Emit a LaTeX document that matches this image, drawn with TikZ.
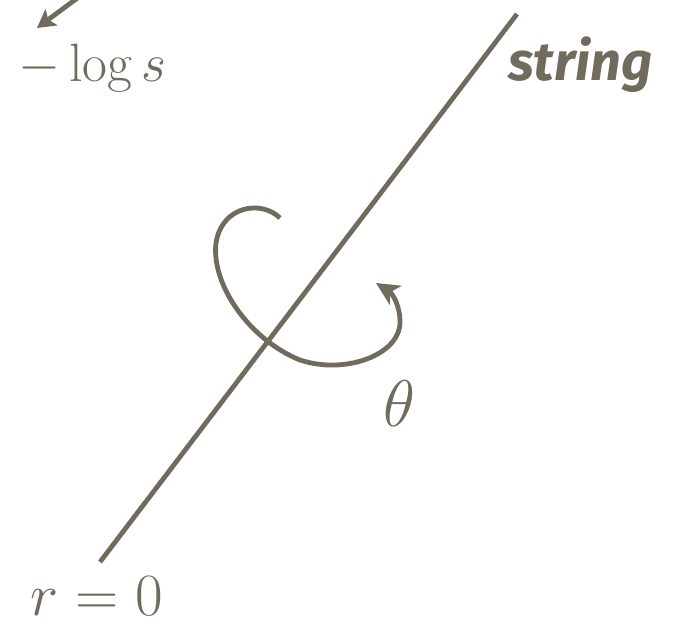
\RequirePackage{fix-cm}
\documentclass[tikz,border=0pt]{standalone}
\usepackage{fontspec}
\usetikzlibrary{arrows.meta}
\newfontfamily\handfont{Fira Sans}

\begin{document}
\begin{tikzpicture}[x=0.5pt,y=-0.5pt,line width=2.4pt,
    font=\fontsize{27}{32}\selectfont]

    \definecolor{ink}{RGB}{112,107,93}
    \tikzset{
        lbl/.style={text=ink,inner sep=0pt},
        tip/.style={-{Stealth[length=11.5pt,width=11pt,inset=3pt]}}
    }

    \useasboundingbox (0,0) rectangle (676,625);
    \clip (0,0) rectangle (676,625);

    % the string
    \coordinate (sbot) at (100,562);
    \coordinate (stop) at (517,14);
    \draw[ink] (sbot) -- (stop);

    % labels
    \node[lbl,anchor=base] (logs) at (92,82) {$-\log s$};
    \node[lbl,anchor=base,font=\fontsize{30}{36}\selectfont] (rzero) at (97,616) {$r=0$};
    \node[lbl,font=\fontsize{33}{40}\selectfont] (theta) at (399,404) {$\theta$};
    \node[lbl,anchor=base west,font=\handfont\bfseries\itshape\fontsize{27}{32}\selectfont]
        (strlbl) at (506,81) {string};

    % arrow towards -log s
    \coordinate (far) at (95,-15);
    \coordinate (near) at (37,28);
    \draw[ink,-{Stealth[length=9pt,width=10pt,inset=2pt]}] (far) -- (near);

    % rotation around the string
    \coordinate (cstart) at (280,218);
    \coordinate (cend) at (376,283);
    \draw[ink,tip] (cstart) .. controls (262,200) and (222,205) .. (216,243)
        .. controls (211,285) and (250,340) .. (300,360)
        .. controls (345,375) and (400,355) .. (400,322)
        .. controls (400,305) and (392,293) .. (cend);

\end{tikzpicture}
\end{document}
